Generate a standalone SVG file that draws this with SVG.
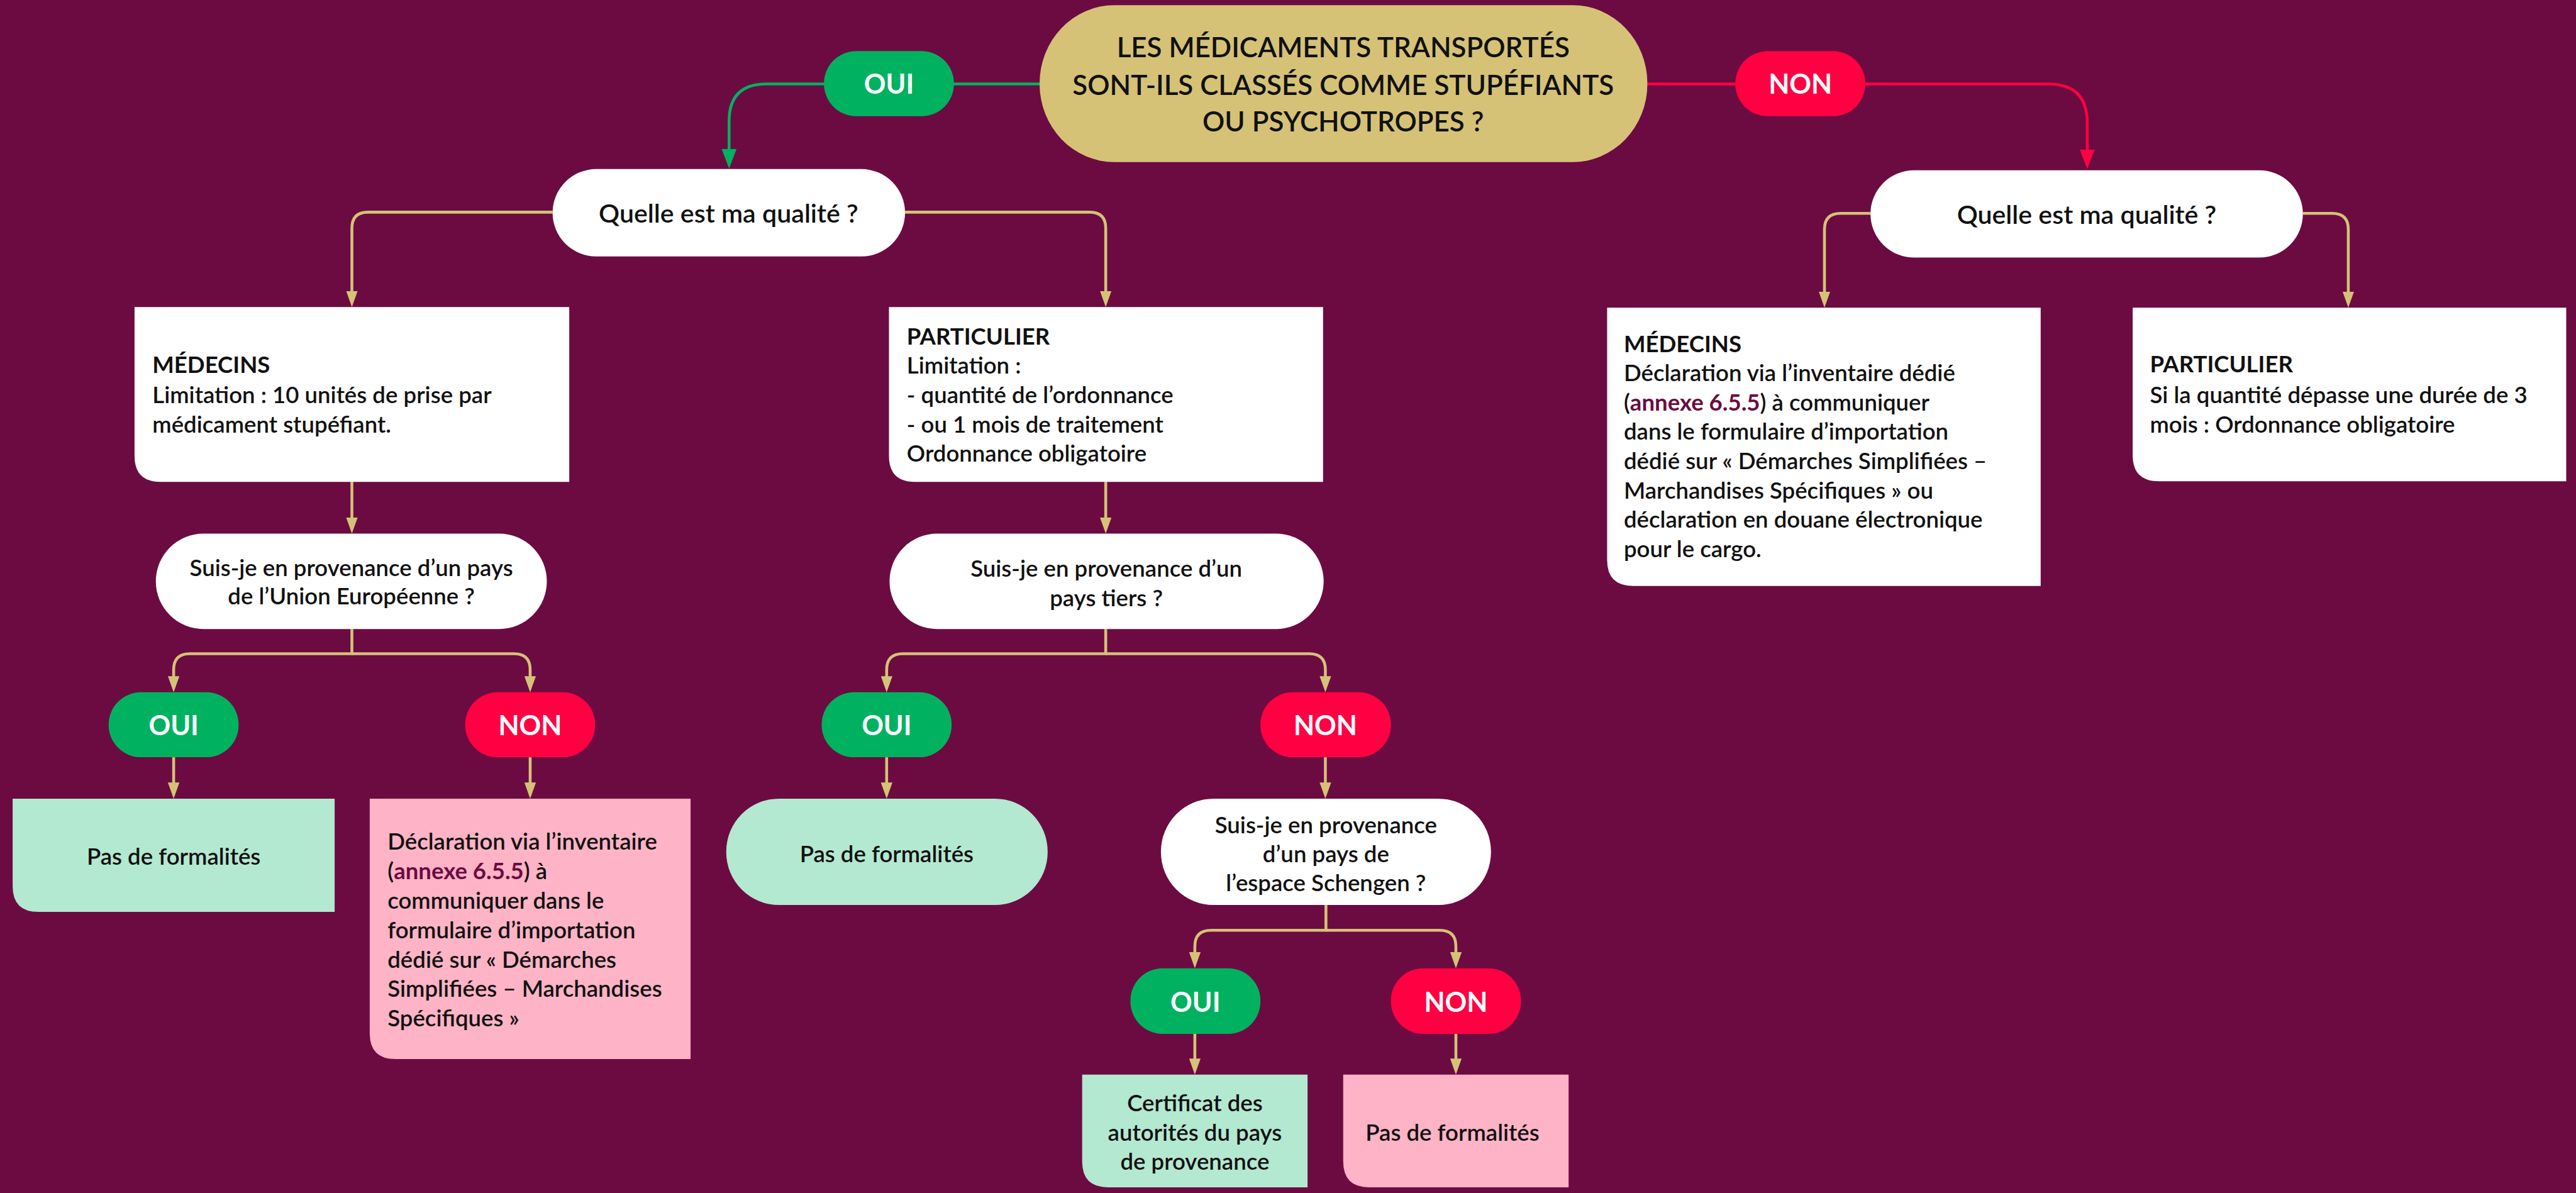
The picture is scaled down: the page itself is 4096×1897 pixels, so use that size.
<svg xmlns="http://www.w3.org/2000/svg" width="4096" height="1897" viewBox="0 0 4096 1897">
  <defs>
    <style>
      .t { font-family: Lato, "Liberation Sans", sans-serif; fill: #111; }
      .body { font-size: 40px; font-weight: 600; }
      .b { font-weight: 700; }
      .q { font-size: 45px; font-weight: 600; text-anchor: middle; }
      .s { font-size: 40px; }
      .c { text-anchor: middle; }
      .head { font-size: 48px; font-weight: 600; text-anchor: middle; }
      .yn { font-family: Lato, "Liberation Sans", sans-serif; font-size: 47px; font-weight: 700; fill: #fff; text-anchor: middle; }
      .ann { fill: #6c0b41; font-weight: 700; }
      .gold { fill: none; stroke: #d5c277; stroke-width: 5; marker-end: url(#ag); }
      .white { fill: #fff; }
      .lg { fill: #b3e8d1; }
      .pk { fill: #ffb3c6; }
      .gr { fill: #00b260; }
      .rd { fill: #ff0042; }
    </style>
    <marker id="ag" markerUnits="userSpaceOnUse" viewBox="0 0 28 20" markerWidth="28" markerHeight="20" refX="18" refY="10" orient="auto">
      <path d="M0,0 L28,10 L0,20 z" fill="#d5c277"/>
    </marker>
    <marker id="agr" markerUnits="userSpaceOnUse" viewBox="0 0 34 26" markerWidth="34" markerHeight="26" refX="24" refY="13" orient="auto">
      <path d="M0,0 L34,13 L0,26 z" fill="#00b260"/>
    </marker>
    <marker id="ard" markerUnits="userSpaceOnUse" viewBox="0 0 34 26" markerWidth="34" markerHeight="26" refX="24" refY="13" orient="auto">
      <path d="M0,0 L34,13 L0,26 z" fill="#ff0042"/>
    </marker>
  </defs>

  <rect x="0" y="0" width="4096" height="1897" fill="#6c0b41"/>

  <g transform="scale(0.9142857)">
    <!-- connectors -->
    <g id="connectors">
      <path d="M1808 146 H1333 Q1268 146 1268 211 V283" fill="none" stroke="#00b260" stroke-width="5" marker-end="url(#agr)"/>
      <path d="M2865 146 H3562 Q3630 146 3630 214 V284" fill="none" stroke="#ff0042" stroke-width="5" marker-end="url(#ard)"/>

      <path class="gold" d="M961 369 H640 Q612 369 612 397 V524"/>
      <path class="gold" d="M1574 369 H1895 Q1923 369 1923 397 V524"/>
      <path class="gold" d="M3253 371 H3201 Q3173 371 3173 399 V525"/>
      <path class="gold" d="M4005 371 H4056 Q4084 371 4084 399 V525"/>

      <path class="gold" d="M612 838 V918"/>
      <path class="gold" d="M1923 838 V918"/>

      <path class="gold" d="M612 1094 V1137 H330 Q302 1137 302 1165 V1194"/>
      <path class="gold" d="M612 1137 H894 Q922 1137 922 1165 V1194"/>
      <path class="gold" d="M302 1317 V1379"/>
      <path class="gold" d="M922 1317 V1379"/>

      <path class="gold" d="M1923 1094 V1137 H1570 Q1542 1137 1542 1165 V1194"/>
      <path class="gold" d="M1923 1137 H2277 Q2305 1137 2305 1165 V1194"/>
      <path class="gold" d="M1542 1317 V1379"/>
      <path class="gold" d="M2305 1317 V1379"/>

      <path class="gold" d="M2306 1574 V1618 H2106 Q2078 1618 2078 1646 V1674"/>
      <path class="gold" d="M2306 1618 H2504 Q2532 1618 2532 1646 V1674"/>
      <path class="gold" d="M2078 1798 V1859"/>
      <path class="gold" d="M2532 1798 V1859"/>
    </g>

    <!-- question at the top -->
    <g id="question-main">
      <rect x="1808" y="9" width="1057" height="273" rx="130" ry="136" fill="#d5c277"/>
      <text class="t head" x="2336" y="100">LES MÉDICAMENTS TRANSPORTÉS</text>
      <text class="t head" x="2336" y="165">SONT-ILS CLASSÉS COMME STUPÉFIANTS</text>
      <text class="t head" x="2336" y="229">OU PSYCHOTROPES ?</text>
    </g>

    <g id="oui-top">
      <rect class="gr" x="1433" y="89" width="226" height="113" rx="56"/>
      <text class="yn" x="1546" y="163">OUI</text>
    </g>
    <g id="non-top">
      <rect class="rd" x="3018" y="89" width="226" height="113" rx="56"/>
      <text class="yn" x="3131" y="163">NON</text>
    </g>

    <!-- left branch -->
    <g id="qualite-left">
      <rect class="white" x="961" y="294" width="613" height="152" rx="76"/>
      <text class="t q" x="1267" y="387">Quelle est ma qualité ?</text>
    </g>

    <g id="medecins-left">
      <path class="white" d="M234 534 H990 V838 H279 Q234 838 234 793 Z"/>
      <text class="t body" x="265" y="649"><tspan class="b">MÉDECINS</tspan></text>
      <text class="t body" x="265" y="701">Limitation : 10 unités de prise par</text>
      <text class="t body" x="265" y="753">médicament stupéfiant.</text>
    </g>

    <g id="particulier-left">
      <path class="white" d="M1546 534 H2301 V838 H1591 Q1546 838 1546 793 Z"/>
      <text class="t body" x="1577" y="599"><tspan class="b">PARTICULIER</tspan></text>
      <text class="t body" x="1577" y="650">Limitation :</text>
      <text class="t body" x="1577" y="701">- quantité de l’ordonnance</text>
      <text class="t body" x="1577" y="753">- ou 1 mois de traitement</text>
      <text class="t body" x="1577" y="803">Ordonnance obligatoire</text>
    </g>

    <g id="provenance-ue">
      <rect class="white" x="271" y="928" width="680" height="166" rx="83"/>
      <text class="t q s" x="611" y="1002">Suis-je en provenance d’un pays</text>
      <text class="t q s" x="611" y="1051">de l’Union Européenne ?</text>
    </g>

    <g id="oui-ue">
      <rect class="gr" x="189" y="1204" width="226" height="113" rx="56"/>
      <text class="yn" x="302" y="1279">OUI</text>
    </g>
    <g id="non-ue">
      <rect class="rd" x="809" y="1204" width="226" height="113" rx="56"/>
      <text class="yn" x="922" y="1279">NON</text>
    </g>

    <g id="ue-oui-result">
      <path class="lg" d="M22 1389 H582 V1586 H67 Q22 1586 22 1541 Z"/>
      <text class="t body c" x="302" y="1504">Pas de formalités</text>
    </g>

    <g id="ue-non-result">
      <path class="pk" d="M643 1389 H1201 V1842 H688 Q643 1842 643 1797 Z"/>
      <text class="t body" x="674" y="1478">Déclaration via l’inventaire</text>
      <text class="t body" x="674" y="1529">(<tspan class="ann">annexe 6.5.5</tspan>) à</text>
      <text class="t body" x="674" y="1580">communiquer dans le</text>
      <text class="t body" x="674" y="1632">formulaire d’importation</text>
      <text class="t body" x="674" y="1683">dédié sur « Démarches</text>
      <text class="t body" x="674" y="1734">Simplifiées – Marchandises</text>
      <text class="t body" x="674" y="1785">Spécifiques »</text>
    </g>

    <g id="provenance-tiers">
      <rect class="white" x="1547" y="928" width="755" height="166" rx="83"/>
      <text class="t q s" x="1924" y="1003">Suis-je en provenance d’un</text>
      <text class="t q s" x="1924" y="1054">pays tiers ?</text>
    </g>

    <g id="oui-tiers">
      <rect class="gr" x="1429" y="1204" width="226" height="113" rx="56"/>
      <text class="yn" x="1542" y="1279">OUI</text>
    </g>
    <g id="non-tiers">
      <rect class="rd" x="2192" y="1204" width="227" height="113" rx="56"/>
      <text class="yn" x="2305" y="1279">NON</text>
    </g>

    <g id="tiers-oui-result">
      <rect class="lg" x="1263" y="1389" width="559" height="185" rx="92"/>
      <text class="t body c" x="1542" y="1499">Pas de formalités</text>
    </g>

    <g id="provenance-schengen">
      <rect class="white" x="2019" y="1389" width="574" height="185" rx="92"/>
      <text class="t q s" x="2306" y="1449">Suis-je en provenance</text>
      <text class="t q s" x="2306" y="1499">d’un pays de</text>
      <text class="t q s" x="2306" y="1550">l’espace Schengen ?</text>
    </g>

    <g id="oui-schengen">
      <rect class="gr" x="1966" y="1684" width="226" height="114" rx="56"/>
      <text class="yn" x="2079" y="1760">OUI</text>
    </g>
    <g id="non-schengen">
      <rect class="rd" x="2419" y="1684" width="226" height="114" rx="56"/>
      <text class="yn" x="2532" y="1760">NON</text>
    </g>

    <g id="schengen-oui-result">
      <path class="lg" d="M1882 1869 H2274 V2065 H1927 Q1882 2065 1882 2020 Z"/>
      <text class="t body c" x="2078" y="1933">Certificat des</text>
      <text class="t body c" x="2078" y="1984">autorités du pays</text>
      <text class="t body c" x="2078" y="2034">de provenance</text>
    </g>

    <g id="schengen-non-result">
      <path class="pk" d="M2336 1869 H2728 V2065 H2381 Q2336 2065 2336 2020 Z"/>
      <text class="t body c" x="2526" y="1984">Pas de formalités</text>
    </g>

    <!-- right branch -->
    <g id="qualite-right">
      <rect class="white" x="3253" y="296" width="752" height="152" rx="76"/>
      <text class="t q" x="3629" y="389">Quelle est ma qualité ?</text>
    </g>

    <g id="medecins-right">
      <path class="white" d="M2795 535 H3549 V1019 H2840 Q2795 1019 2795 974 Z"/>
      <text class="t body" x="2824" y="612"><tspan class="b">MÉDECINS</tspan></text>
      <text class="t body" x="2824" y="663">Déclaration via l’inventaire dédié</text>
      <text class="t body" x="2824" y="714">(<tspan class="ann">annexe 6.5.5</tspan>) à communiquer</text>
      <text class="t body" x="2824" y="765">dans le formulaire d’importation</text>
      <text class="t body" x="2824" y="816">dédié sur « Démarches Simplifiées –</text>
      <text class="t body" x="2824" y="867">Marchandises Spécifiques » ou</text>
      <text class="t body" x="2824" y="918">déclaration en douane électronique</text>
      <text class="t body" x="2824" y="969">pour le cargo.</text>
    </g>

    <g id="particulier-right">
      <path class="white" d="M3709 535 H4463 V837 H3754 Q3709 837 3709 792 Z"/>
      <text class="t body" x="3739" y="648"><tspan class="b">PARTICULIER</tspan></text>
      <text class="t body" x="3739" y="701">Si la quantité dépasse une durée de 3</text>
      <text class="t body" x="3739" y="753">mois : Ordonnance obligatoire</text>
    </g>
  </g>
</svg>
